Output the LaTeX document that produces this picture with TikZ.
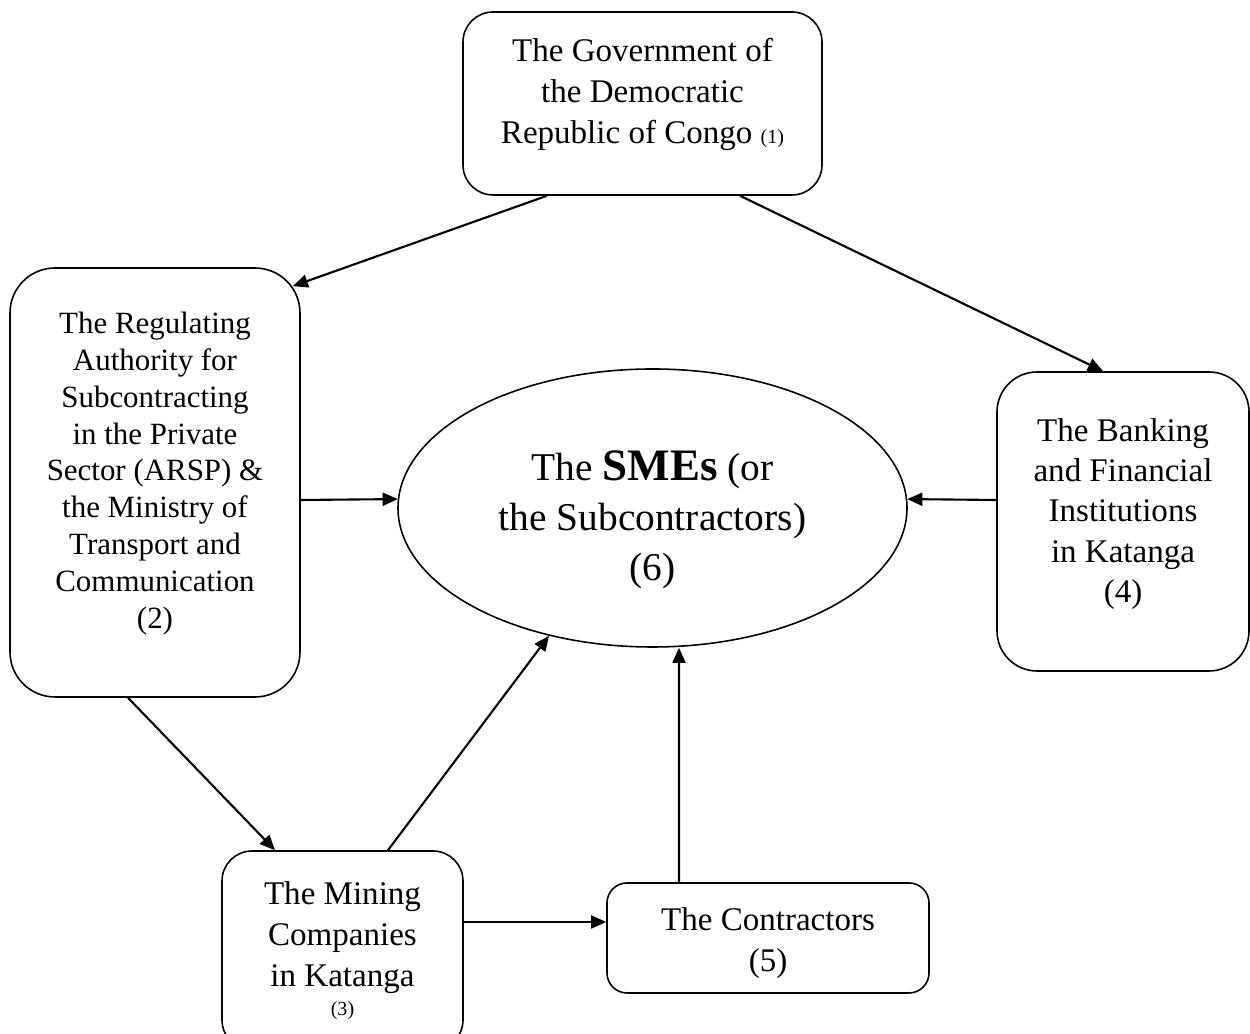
\documentclass[tikz,border=0pt]{standalone}
\usepackage{fontspec}
\setmainfont{Liberation Serif}
\usepackage{tikz}
\usetikzlibrary{shapes.geometric,arrows.meta,positioning,calc}

\newcommand{\boxtext}{\fontsize{9.4pt}{11.7pt}\selectfont}
\newcommand{\smalltext}{\fontsize{8.8pt}{10.5pt}\selectfont}
\newcommand{\tinynum}{\fontsize{5.7pt}{7pt}\selectfont}

\begin{document}
\begin{tikzpicture}[
  box/.style={draw, line width=0.45pt, inner sep=0pt},
  txt/.style={align=center, inner sep=0pt, font=\boxtext},
  flow/.style={-{Triangle[length=4.3pt,width=3.7pt]}, line width=0.6pt}
]
  \useasboundingbox (0,0) rectangle (12.5,10.34);
  \clip (0,0) rectangle (12.5,10.34);

  % actors
  \node[box, rounded corners=0.3cm, minimum width=3.59cm, minimum height=1.83cm] (gov) at (6.425,9.305) {};
  \node[txt] (govtext) at ($(gov)+(0,0.09)$)
    {The Government of\\ the Democratic\\ Republic of Congo {\tinynum (1)}};

  \node[box, rounded corners=0.45cm, minimum width=2.9cm, minimum height=4.29cm] (reg) at (1.55,5.515) {};
  \node[txt, font=\smalltext] (regtext) at ($(reg)+(0,0.09)$)
    {The Regulating\\ Authority for\\ Subcontracting\\ in the Private\\ Sector (ARSP) \&\\ the Ministry of\\ Transport and\\ Communication\\ (2)};

  \node[box, rounded corners=0.4cm, minimum width=2.52cm, minimum height=2.99cm] (bank) at (11.23,5.125) {};
  \node[txt, font=\fontsize{9.4pt}{11.5pt}\selectfont] (banktext) at ($(bank)+(0,0.075)$)
    {The Banking\\ and Financial\\ Institutions\\ in Katanga\\ (4)};

  \node[box, ellipse, minimum width=5.09cm, minimum height=2.78cm] (sme) at (6.525,5.26) {};
  \node[txt, font=\fontsize{11.2pt}{14.2pt}\selectfont] (smetext) at ($(sme)+(0,-0.12)$)
    {The {\bfseries\fontsize{12.8pt}{14.2pt}\selectfont SMEs} (or\\ the Subcontractors)\\ (6)};

  \node[box, rounded corners=0.3cm, minimum width=2.41cm, minimum height=1.99cm] (mine) at (3.425,0.835) {};
  \node[txt] (minetext) at (mine)
    {The Mining\\ Companies\\ in Katanga\\[-3.7pt] {\tinynum (3)}};

  \node[box, rounded corners=0.2cm, minimum width=3.22cm, minimum height=1.1cm] (con) at (7.68,0.96) {};
  \node[txt] (context) at ($(con)+(0,-0.055)$)
    {The Contractors\\ (5)};

  % relations
  \draw[flow] ($(gov.south)+(-0.955,0)$) -- ($(reg.north east)+(-0.08,-0.19)$);
  \draw[flow] ($(gov.south)+(0.975,0)$) -- ($(bank.north)+(-0.2,0)$);
  \draw[flow] ($(reg.east)+(0,-0.175)$) -- (sme.178);
  \draw[flow] ($(bank.west)+(0,0.215)$) -- (sme.2);
  \draw[flow] ($(reg.south)+(-0.27,0)$) -- ($(mine.north)+(-0.675,0)$);
  \draw[flow] ($(mine.north)+(0.455,0)$) -- (sme.231);
  \draw[flow] ($(mine.east)+(0,0.285)$) -- ($(con.west)+(0,0.16)$);
  \draw[flow] ($(con.north)+(-0.89,0)$) -- ($(sme.south)+(0.265,0)$);
\end{tikzpicture}
\end{document}
